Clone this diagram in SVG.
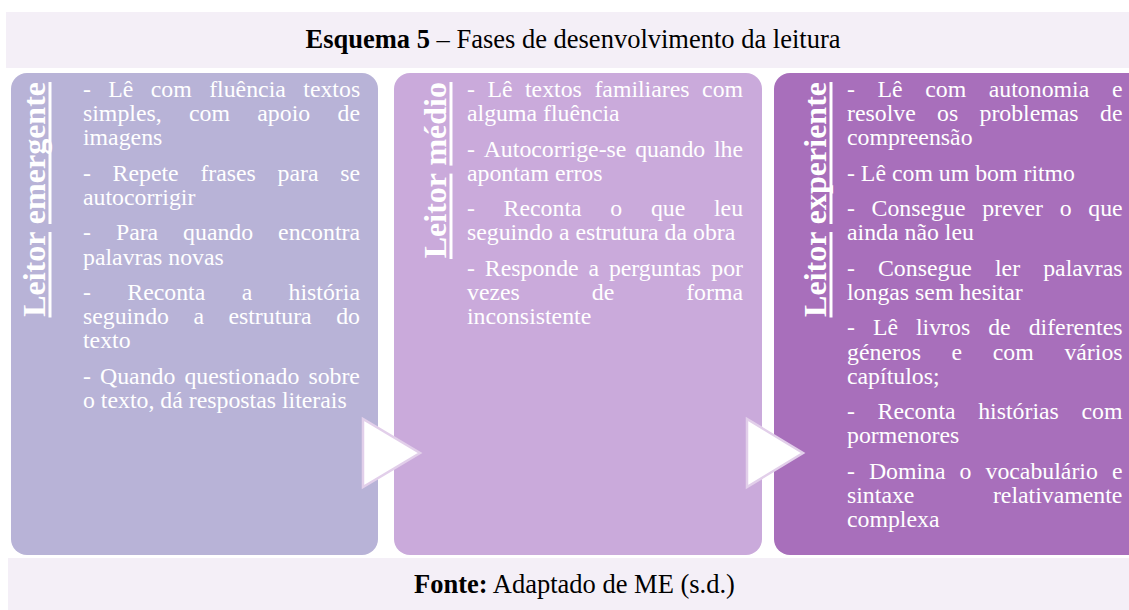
<svg xmlns="http://www.w3.org/2000/svg" width="1129" height="610" viewBox="0 0 1129 610">
<style>
.band{fill:#f4eff7}
.tx{font-family:"Liberation Serif","Times New Roman",serif;font-size:23.8px;fill:#ffffff}
.lbl{font-family:"Liberation Serif","Times New Roman",serif;font-size:32px;font-weight:bold;fill:#ffffff}
.ul{stroke:#ffffff;stroke-width:3}
.cap{font-family:"Liberation Serif","Times New Roman",serif;font-size:26.5px;fill:#000000}
.arrow{fill:#ffffff;stroke:#e2cfea;stroke-width:2.5;stroke-linejoin:miter}
</style>
<rect width="1129" height="610" fill="#ffffff"/>
<g id="title">
<rect class="band" x="6" y="12" width="1123" height="56"/>
<text class="cap" x="573" y="48" text-anchor="middle"><tspan font-weight="bold">Esquema 5</tspan> – Fases de desenvolvimento da leitura</text>
</g>
<g id="panel-emergente">
<rect x="11" y="73" width="367" height="482" rx="16" fill="#b8b3d7"/>
<text class="lbl" transform="translate(45,82) rotate(-90)" text-anchor="end">Leitor emergente</text>
<line class="ul" x1="50" y1="317.5" x2="50" y2="232"/>
<line class="ul" x1="50" y1="224" x2="50" y2="82"/>
<g class="tx" font-family="Liberation Serif, Times New Roman, serif" font-size="23.8" fill="#ffffff">
<text y="97"><tspan x="83">-</tspan><tspan x="108.3">Lê</tspan><tspan x="150.8">com</tspan><tspan x="209.2">fluência</tspan><tspan x="303.3">textos</tspan></text>
<text y="121.2"><tspan x="83">simples,</tspan><tspan x="189">com</tspan><tspan x="257.3">apoio</tspan><tspan x="337.5">de</tspan></text>
<text x="83" y="145.4">imagens</text>
<text y="180.8"><tspan x="83">-</tspan><tspan x="112.6">Repete</tspan><tspan x="200.4">frases</tspan><tspan x="277.6">para</tspan><tspan x="340.3">se</tspan></text>
<text x="83" y="205">autocorrigir</text>
<text y="240.4"><tspan x="83">-</tspan><tspan x="115.9">Para</tspan><tspan x="183.1">quando</tspan><tspan x="278.1">encontra</tspan></text>
<text x="83" y="264.6">palavras novas</text>
<text y="300"><tspan x="83">-</tspan><tspan x="127.3">Reconta</tspan><tspan x="241.7">a</tspan><tspan x="288.6">história</tspan></text>
<text y="324.2"><tspan x="83">seguindo</tspan><tspan x="193.4">a</tspan><tspan x="228.4">estrutura</tspan><tspan x="336.2">do</tspan></text>
<text x="83" y="348.4">texto</text>
<text y="383.8"><tspan x="83">-</tspan><tspan x="100">Quando</tspan><tspan x="184.4">questionado</tspan><tspan x="308.4">sobre</tspan></text>
<text x="83" y="408">o texto, dá respostas literais</text>
</g>
</g>
<g id="panel-medio">
<rect x="394" y="73" width="368" height="482" rx="16" fill="#caaadb"/>
<text class="lbl" transform="translate(446,82) rotate(-90)" text-anchor="end">Leitor médio</text>
<line class="ul" x1="451" y1="259" x2="451" y2="173.6"/>
<line class="ul" x1="451" y1="165.6" x2="451" y2="82"/>
<g class="tx" font-family="Liberation Serif, Times New Roman, serif" font-size="23.8" fill="#ffffff">
<text y="97"><tspan x="467">-</tspan><tspan x="487.4">Lê</tspan><tspan x="525">textos</tspan><tspan x="594.4">familiares</tspan><tspan x="702.1">com</tspan></text>
<text x="467" y="121.2">alguma fluência</text>
<text y="156.6"><tspan x="467">-</tspan><tspan x="483.7">Autocorrige-se</tspan><tspan x="635.2">quando</tspan><tspan x="714">lhe</tspan></text>
<text x="467" y="180.8">apontam erros</text>
<text y="216.2"><tspan x="467">-</tspan><tspan x="503.6">Reconta</tspan><tspan x="610.3">o</tspan><tspan x="650.9">que</tspan><tspan x="714">leu</tspan></text>
<text x="467" y="240.4">seguindo a estrutura da obra</text>
<text y="275.8"><tspan x="467">-</tspan><tspan x="484.8">Responde</tspan><tspan x="588.5">a</tspan><tspan x="608.9">perguntas</tspan><tspan x="711.3">por</tspan></text>
<text y="300"><tspan x="467">vezes</tspan><tspan x="591.8">de</tspan><tspan x="686.2">forma</tspan></text>
<text x="467" y="324.2">inconsistente</text>
</g>
</g>
<g id="panel-experiente">
<rect x="774" y="73" width="370" height="482" rx="16" fill="#a86fbb"/>
<text class="lbl" transform="translate(826,82) rotate(-90)" text-anchor="end">Leitor experiente</text>
<line class="ul" x1="831" y1="317.5" x2="831" y2="232"/>
<line class="ul" x1="831" y1="224" x2="831" y2="82"/>
<g class="tx" font-family="Liberation Serif, Times New Roman, serif" font-size="23.8" fill="#ffffff">
<text y="97"><tspan x="847">-</tspan><tspan x="877.5">Lê</tspan><tspan x="925.2">com</tspan><tspan x="988.8">autonomia</tspan><tspan x="1111.9">e</tspan></text>
<text y="121.2"><tspan x="847">resolve</tspan><tspan x="937">os</tspan><tspan x="979.5">problemas</tspan><tspan x="1100">de</tspan></text>
<text x="847" y="145.4">compreensão</text>
<text x="847" y="180.8">- Lê com um bom ritmo</text>
<text y="216.2"><tspan x="847">-</tspan><tspan x="871.6">Consegue</tspan><tspan x="982.2">prever</tspan><tspan x="1059.7">o</tspan><tspan x="1088.3">que</tspan></text>
<text x="847" y="240.4">ainda não leu</text>
<text y="275.8"><tspan x="847">-</tspan><tspan x="878">Consegue</tspan><tspan x="995">ler</tspan><tspan x="1043.2">palavras</tspan></text>
<text x="847" y="300">longas sem hesitar</text>
<text y="335.4"><tspan x="847">-</tspan><tspan x="872.9">Lê</tspan><tspan x="916">livros</tspan><tspan x="988.2">de</tspan><tspan x="1028.7">diferentes</tspan></text>
<text y="359.6"><tspan x="847">géneros</tspan><tspan x="951.6">e</tspan><tspan x="992.8">com</tspan><tspan x="1064.4">vários</tspan></text>
<text x="847" y="383.8">capítulos;</text>
<text y="419.2"><tspan x="847">-</tspan><tspan x="877.6">Reconta</tspan><tspan x="978.2">histórias</tspan><tspan x="1081.5">com</tspan></text>
<text x="847" y="443.4">pormenores</text>
<text y="478.8"><tspan x="847">-</tspan><tspan x="868.9">Domina</tspan><tspan x="959.6">o</tspan><tspan x="985.5">vocabulário</tspan><tspan x="1111.9">e</tspan></text>
<text y="503"><tspan x="847">sintaxe</tspan><tspan x="992.9">relativamente</tspan></text>
<text x="847" y="527.2">complexa</text>
</g>
</g>
<g id="connectors">
<polygon class="arrow" points="363,419 363,487 420,453"/>
<polygon class="arrow" points="747,419 747,487 803,453"/>
</g>
<g id="footer">
<rect class="band" x="8" y="558" width="1121" height="52"/>
<text class="cap" x="574.5" y="593" text-anchor="middle"><tspan font-weight="bold">Fonte:</tspan> Adaptado de ME (s.d.)</text>
</g>
</svg>
